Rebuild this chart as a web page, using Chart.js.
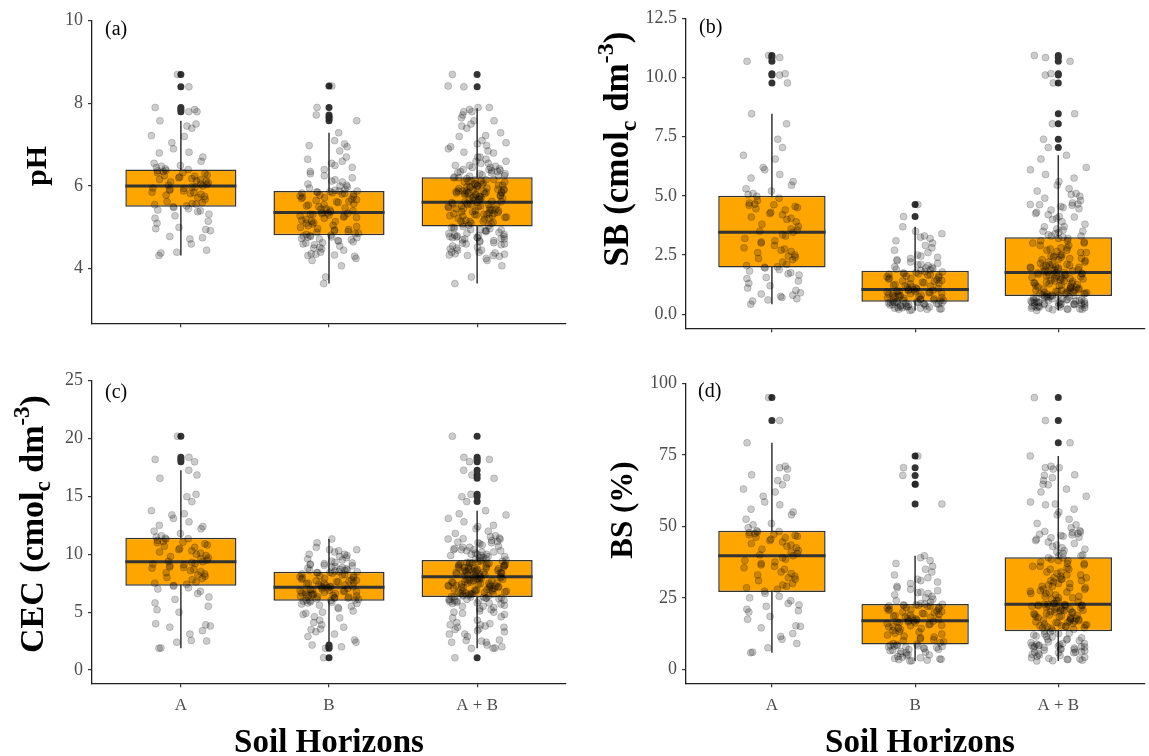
<!DOCTYPE html>
<html>
<head>
<meta charset="utf-8">
<script src="https://cdn.jsdelivr.net/npm/chart.js@4.4.1/dist/chart.umd.min.js"></script>
<style>
  body { margin: 0; background: #fff; }
  #wrap { position: relative; width: 1149px; height: 756px; overflow: hidden; }
  #wrap canvas { position: absolute; left: 0; top: 0; }
</style>
</head>
<body>
<div id="wrap">
  <canvas id="pa" width="1149" height="756"></canvas>
  <canvas id="pb" width="1149" height="756"></canvas>
  <canvas id="pc" width="1149" height="756"></canvas>
  <canvas id="pd" width="1149" height="756"></canvas>
</div>
<script>
const horizons = ['A', 'B', 'A + B'];

// pH
const phA = [4.32, 4.38, 4.40, 4.45, 4.60, 4.72, 4.75, 4.78, 4.92, 4.95, 4.97, 5.00, 5.10, 5.15, 5.22, 5.28, 5.32, 5.38, 5.40, 5.42, 5.45, 5.48,
  5.50, 5.52, 5.55, 5.56, 5.58, 5.60, 5.62, 5.68, 5.72, 5.75, 5.78, 5.80, 5.82, 5.84, 5.85, 5.88, 5.90, 5.92, 5.94, 5.95, 5.97, 5.98, 6.00,
  6.02, 6.04, 6.05, 6.08, 6.10, 6.12, 6.13, 6.15, 6.16, 6.18, 6.20, 6.22, 6.24, 6.25, 6.27, 6.30, 6.32, 6.33, 6.35, 6.37, 6.38, 6.40, 6.42,
  6.45, 6.48, 6.50, 6.55, 6.60, 6.70, 6.80, 6.82, 6.90, 7.05, 7.20, 7.22, 7.40, 7.45, 7.50, 7.58, 7.80, 7.80, 7.85, 7.90, 8.40, 8.70];
const phB = [3.64, 3.80, 4.07, 4.20, 4.25, 4.30, 4.32, 4.33, 4.35, 4.36, 4.40, 4.45, 4.48, 4.50, 4.52, 4.55, 4.58, 4.60, 4.62, 4.63, 4.65, 4.67, 4.68, 4.70, 4.72, 4.73, 4.75, 4.76, 4.77, 4.78, 4.79, 4.80,
  4.81, 4.83, 4.85, 4.86, 4.88, 4.90, 4.92, 4.94, 4.95, 4.97, 5.00, 5.02, 5.04, 5.05, 5.08, 5.10, 5.12, 5.14, 5.15, 5.17, 5.20, 5.22, 5.24, 5.25, 5.27, 5.28, 5.30, 5.31, 5.32, 5.33, 5.34, 5.35, 5.36,
  5.38, 5.40, 5.42, 5.44, 5.45, 5.47, 5.50, 5.52, 5.54, 5.55, 5.57, 5.60, 5.62, 5.63, 5.65, 5.67, 5.68, 5.70, 5.72, 5.73, 5.75, 5.76, 5.78, 5.80, 5.81, 5.82, 5.83, 5.84, 5.85, 5.86, 5.87, 5.88, 5.88,
  5.90, 5.92, 5.95, 5.98, 6.00, 6.02, 6.05, 6.10, 6.12, 6.15, 6.20, 6.25, 6.30, 6.35, 6.40, 6.45, 6.50, 6.55, 6.60, 6.65, 6.70, 6.85, 6.95, 6.98, 7.02, 7.10, 7.29, 7.58, 7.65, 7.72, 7.90, 8.42];
// lower whisker, Q1, median, Q3, upper whisker for A, B, A + B
const phStats = [[4.32, 5.50, 6.00, 6.40, 7.58], [3.64, 4.81, 5.36, 5.88, 7.29], [3.64, 5.02, 5.61, 6.21, 7.88]];
const phOutliers = [[7.80, 7.85, 7.90, 8.40, 8.70], [7.58, 7.65, 7.72, 7.90, 8.42], [8.40, 8.70]];
const phTicks = [4, 6, 8, 10];
const phRange = [2.68, 10];

// SB (cmolc dm-3)
const sbA = [0.42, 0.55, 0.60, 0.65, 0.70, 0.75, 0.80, 0.85, 0.90, 1.00, 1.10, 1.20, 1.30, 1.40, 1.50, 1.55, 1.65, 1.70, 1.75, 1.82, 1.88, 1.95,
  1.98, 2.00, 2.05, 2.10, 2.20, 2.30, 2.35, 2.40, 2.45, 2.50, 2.60, 2.65, 2.70, 2.75, 2.80, 2.90, 3.00, 3.05, 3.10, 3.20, 3.30, 3.35, 3.46,
  3.50, 3.55, 3.60, 3.70, 3.80, 3.90, 4.00, 4.05, 4.10, 4.20, 4.25, 4.30, 4.40, 4.45, 4.50, 4.55, 4.60, 4.62, 4.65, 4.70, 4.80, 4.90, 4.98,
  5.05, 5.10, 5.20, 5.30, 5.45, 5.60, 5.75, 5.90, 6.10, 6.20, 6.55, 6.71, 7.04, 7.39, 8.04, 8.47, 9.77, 10.10, 10.16, 10.68, 10.84, 10.93];
const sbB = [0.15, 0.18, 0.20, 0.20, 0.22, 0.22, 0.25, 0.25, 0.27, 0.28, 0.30, 0.30, 0.32, 0.33, 0.35, 0.35, 0.37, 0.38, 0.40, 0.40, 0.42, 0.43, 0.44, 0.45, 0.46, 0.47, 0.48, 0.48, 0.49, 0.50, 0.50, 0.51,
  0.52, 0.54, 0.55, 0.57, 0.58, 0.60, 0.62, 0.63, 0.65, 0.67, 0.68, 0.70, 0.72, 0.74, 0.75, 0.77, 0.78, 0.80, 0.82, 0.84, 0.85, 0.87, 0.88, 0.90, 0.92, 0.94, 0.95, 0.97, 0.98, 1.00, 1.01, 1.02, 1.04,
  1.06, 1.08, 1.10, 1.12, 1.15, 1.18, 1.20, 1.22, 1.25, 1.28, 1.30, 1.32, 1.35, 1.38, 1.40, 1.42, 1.45, 1.48, 1.50, 1.52, 1.55, 1.58, 1.60, 1.62, 1.64, 1.66, 1.68, 1.70, 1.72, 1.74, 1.76, 1.78, 1.80,
  1.85, 1.87, 1.90, 1.92, 1.95, 1.98, 2.00, 2.05, 2.08, 2.10, 2.15, 2.20, 2.25, 2.30, 2.35, 2.40, 2.45, 2.50, 2.60, 2.70, 2.80, 2.90, 3.00, 3.10, 3.20, 3.25, 3.30, 3.40, 3.50, 3.69, 4.12, 4.63];
const sbStats = [[0.42, 1.97, 3.46, 5.00, 8.47], [0.15, 0.52, 1.04, 1.83, 3.69], [0.15, 0.76, 1.76, 3.25, 6.71]];
const sbOutliers = [[9.77, 10.10, 10.16, 10.68, 10.84, 10.93], [4.12, 4.63],
  [7.04, 7.39, 8.04, 8.47, 9.77, 10.10, 10.16, 10.68, 10.84, 10.93]];
const sbTicks = [0, 2.5, 5, 7.5, 10, 12.5];
const sbRange = [-0.6, 12.5];

// CEC (cmolc dm-3)
const cecA = [1.87, 1.90, 2.40, 2.50, 2.55, 3.10, 3.40, 3.70, 3.80, 3.90, 4.00, 5.00, 5.20, 5.50, 5.80, 6.10, 6.30, 6.60, 6.80, 7.00, 7.10, 7.25,
  7.30, 7.40, 7.50, 7.60, 7.80, 7.90, 8.00, 8.10, 8.20, 8.30, 8.40, 8.50, 8.60, 8.70, 8.80, 8.85, 8.90, 9.00, 9.10, 9.15, 9.20, 9.30, 9.36,
  9.40, 9.50, 9.60, 9.70, 9.80, 9.90, 10.00, 10.10, 10.20, 10.30, 10.40, 10.50, 10.60, 10.70, 10.80, 10.90, 11.00, 11.05, 11.10, 11.20, 11.30, 11.35, 11.40,
  11.50, 11.60, 11.80, 12.00, 12.20, 12.40, 12.50, 12.80, 13.10, 13.40, 13.50, 13.77, 14.55, 14.98, 15.18, 16.56, 16.85, 17.26, 18.00, 18.20, 18.38, 20.20];
const cecB = [1.06, 1.87, 2.00, 2.15, 2.40, 2.60, 2.90, 3.10, 3.30, 3.50, 3.55, 3.70, 3.90, 4.10, 4.30, 4.50, 4.60, 4.80, 4.90, 5.00, 5.10, 5.30, 5.40, 5.50, 5.60, 5.70, 5.75, 5.80, 5.85, 5.90, 5.95, 5.98,
  6.00, 6.03, 6.05, 6.10, 6.15, 6.20, 6.22, 6.25, 6.30, 6.33, 6.35, 6.40, 6.42, 6.45, 6.50, 6.52, 6.55, 6.60, 6.62, 6.65, 6.70, 6.72, 6.75, 6.80, 6.82, 6.85, 6.90, 6.92, 6.95, 7.00, 7.05, 7.10, 7.15,
  7.18, 7.20, 7.22, 7.25, 7.30, 7.35, 7.40, 7.45, 7.50, 7.52, 7.55, 7.60, 7.65, 7.70, 7.72, 7.75, 7.80, 7.85, 7.90, 7.95, 8.00, 8.05, 8.10, 8.15, 8.20, 8.25, 8.30, 8.35, 8.40, 8.42, 8.45, 8.48, 8.50,
  8.55, 8.60, 8.62, 8.65, 8.70, 8.75, 8.80, 8.85, 8.90, 8.95, 9.00, 9.05, 9.10, 9.15, 9.20, 9.25, 9.30, 9.40, 9.50, 9.60, 9.70, 9.80, 9.90, 10.00, 10.00, 10.20, 10.30, 10.40, 10.40, 10.60, 11.00, 11.32];
const cecStats = [[1.87, 7.29, 9.36, 11.43, 17.26], [2.40, 5.99, 7.15, 8.50, 11.32], [1.87, 6.31, 8.06, 9.50, 13.77]];
const cecOutliers = [[18.00, 18.20, 18.38, 20.20], [1.06, 1.87, 2.00, 2.15],
  [1.06, 14.55, 14.98, 15.18, 16.56, 16.85, 17.26, 18.00, 18.20, 18.38, 20.20]];
const cecTicks = [0, 5, 10, 15, 20, 25];
const cecRange = [-1.15, 25];

// BS (%)
const bsA = [5.8, 6.0, 7.5, 9.0, 10.5, 11.5, 12.5, 14.5, 15.0, 15.2, 17.5, 18.5, 20.0, 20.5, 21.0, 22.0, 22.5, 23.0, 24.0, 25.0, 25.5, 26.5,
  27.3, 28.0, 28.5, 29.0, 29.5, 30.0, 31.0, 31.5, 32.0, 32.5, 33.0, 33.5, 34.0, 35.0, 35.5, 36.0, 36.5, 37.0, 37.5, 38.0, 38.5, 39.0, 39.7,
  40.0, 40.5, 41.0, 41.5, 42.0, 42.5, 43.0, 43.5, 44.0, 44.5, 45.0, 45.5, 46.0, 46.2, 46.5, 46.8, 47.0, 47.2, 47.5, 47.8, 48.0, 48.2, 48.4,
  49.5, 50.5, 51.0, 52.5, 54.0, 55.0, 56.0, 57.5, 58.5, 60.5, 62.0, 63.0, 64.5, 66.0, 67.0, 68.0, 70.0, 70.5, 71.0, 79.2, 87.0, 95.0];
const bsB = [2.9, 3.0, 3.2, 3.4, 3.5, 3.6, 3.8, 4.0, 4.2, 4.5, 4.8, 5.0, 5.2, 5.5, 5.8, 6.0, 6.2, 6.5, 6.7, 6.9, 7.0, 7.2, 7.4, 7.6, 7.8, 7.9, 8.0, 8.1, 8.2, 8.3, 8.4, 8.6,
  8.8, 9.0, 9.3, 9.6, 10.0, 10.3, 10.6, 11.0, 11.3, 11.6, 12.0, 12.3, 12.6, 13.0, 13.3, 13.6, 14.0, 14.3, 14.5, 14.8, 15.0, 15.2, 15.4, 15.6, 15.8, 16.0, 16.2, 16.4, 16.5, 16.6, 16.8, 16.9, 17.0,
  17.2, 17.4, 17.6, 17.8, 18.0, 18.2, 18.4, 18.6, 18.8, 19.0, 19.2, 19.4, 19.6, 19.8, 20.0, 20.2, 20.4, 20.6, 20.8, 21.0, 21.2, 21.4, 21.6, 21.8, 22.0, 22.1, 22.2, 22.3, 22.4, 22.5, 22.6, 22.7, 22.8,
  23.0, 23.5, 24.0, 24.5, 25.0, 25.5, 26.0, 26.5, 26.8, 27.0, 27.5, 28.0, 28.5, 29.0, 30.0, 30.5, 31.0, 31.5, 32.0, 33.0, 34.0, 35.0, 36.0, 37.0, 38.0, 39.0, 39.7, 57.8, 64.7, 67.8, 70.5, 74.6];
const bsStats = [[5.8, 27.0, 39.7, 48.4, 79.2], [2.9, 8.7, 17.0, 22.8, 39.7], [2.9, 13.3, 22.7, 39.2, 74.6]];
const bsOutliers = [[87.0, 95.0], [57.8, 64.7, 67.8, 70.5, 74.6], [79.2, 87.0, 95.0]];
const bsTicks = [0, 25, 50, 75, 100];
const bsRange = [-4.9, 100];

// look
const FONT = '"Liberation Serif", "Times New Roman", serif';
const INK = '#333333';
const ORANGE = '#FFA500';
const TICK_GREY = '#4d4d4d';
const JITTER = 0.2;      // half width of the jitter band, in category units
const BOX_WIDTH = 0.75;  // box width, in category units
const Y_AXIS_W = 60;
const X_AXIS_H = 40;

Chart.defaults.font.family = FONT;

const panels = [
  { id: 'pa', tag: '(a)', a: phA, b: phB, stats: phStats, outliers: phOutliers, ticks: phTicks, range: phRange, decimals: 0,
    title: [['pH', 'n']], titleSize: 30, plot: { l: 92, r: 566, t: 20.7, b: 323.3 }, titlePos: [46, 166], tagPos: [105, 30] },
  { id: 'pb', tag: '(b)', a: sbA, b: sbB, stats: sbStats, outliers: sbOutliers, ticks: sbTicks, range: sbRange, decimals: 1,
    title: [['SB (cmol', 'n'], ['c', 'sub'], [' dm', 'n'], ['-3', 'sup'], [')', 'n']], titleSize: 35,
    plot: { l: 686, r: 1148, t: 18.3, b: 328.3 }, titlePos: [628, 149], tagPos: [699, 27.5] },
  { id: 'pc', tag: '(c)', a: cecA, b: cecB, stats: cecStats, outliers: cecOutliers, ticks: cecTicks, range: cecRange, decimals: 0,
    title: [['CEC (cmol', 'n'], ['c', 'sub'], [' dm', 'n'], ['-3', 'sup'], [')', 'n']], titleSize: 34,
    plot: { l: 92, r: 566, t: 380.7, b: 683.3 }, titlePos: [43, 524], tagPos: [105, 393], xTitle: [329, 751.5] },
  { id: 'pd', tag: '(d)', a: bsA, b: bsB, stats: bsStats, outliers: bsOutliers, ticks: bsTicks, range: bsRange, decimals: 0,
    title: [['BS (%)', 'n']], titleSize: 31, plot: { l: 686, r: 1148, t: 383.3, b: 683.3 }, titlePos: [632, 510], tagPos: [698, 391.5], xTitle: [920, 751.5] }
];

// spread points sideways with a quadratic Weyl sequence (no visible diagonal runs on sorted values)
function jitterX(group, k) {
  const phase = [0.13, 0.41, 0.77][group];
  const u = (k * k * 0.6180339887 + k * 0.4142135624 + phase) % 1;
  return group + 1 + (u * 2 - 1) * JITTER;
}

// text with sub/superscript pieces, centred on the current origin
function drawRich(ctx, parts, size) {
  const fonts = parts.map(([, k]) => `bold ${k === 'n' ? size : Math.round(size * 0.68)}px ${FONT}`);
  let total = 0;
  parts.forEach(([t], i) => { ctx.font = fonts[i]; total += ctx.measureText(t).width; });
  let x = -total / 2;
  parts.forEach(([t, k], i) => {
    ctx.font = fonts[i];
    const dy = k === 'sub' ? size * 0.22 : k === 'sup' ? -size * 0.42 : 0;
    ctx.fillText(t, x, dy);
    x += ctx.measureText(t).width;
  });
}

function labelsPlugin(p) {
  return {
    id: 'panelLabels',
    afterDraw(chart) {
      const ctx = chart.ctx;
      ctx.save();
      ctx.fillStyle = '#000';
      ctx.textBaseline = 'alphabetic';
      ctx.textAlign = 'left';
      // y axis title, rotated
      ctx.save();
      ctx.translate(p.titlePos[0], p.titlePos[1]);
      ctx.rotate(-Math.PI / 2);
      drawRich(ctx, p.title, p.titleSize);
      ctx.restore();
      // panel tag
      ctx.font = `20px ${FONT}`;
      ctx.textBaseline = 'middle';
      ctx.fillText(p.tag, p.tagPos[0], p.tagPos[1]);
      // x axis title under the bottom row
      if (p.xTitle) {
        ctx.font = `bold 33px ${FONT}`;
        ctx.textAlign = 'center';
        ctx.textBaseline = 'alphabetic';
        ctx.fillText('Soil Horizons', p.xTitle[0], p.xTitle[1]);
      }
      ctx.restore();
    }
  };
}

function buildChart(p) {
  const groups = [p.a, p.b, p.a.concat(p.b)];
  const jitter = groups.flatMap((vals, g) => vals.map((v, k) => ({ x: jitterX(g, k), y: v })));
  const outliers = p.outliers.flatMap((vals, g) => vals.map(v => ({ x: g + 1, y: v })));
  const boxes = p.stats.map((s, g) => ({ x: g + 1, y: [s[1], s[3]] }));
  const whiskers = p.stats.flatMap((s, g) => [{ x: g + 1, y: s[0] }, { x: g + 1, y: s[4] }, { x: g + 1, y: null }]);
  const half = BOX_WIDTH / 2;
  const medians = p.stats.flatMap((s, g) => [{ x: g + 1 - half, y: s[2] }, { x: g + 1 + half, y: s[2] }, { x: g + 1 + half, y: null }]);
  const showX = !!p.xTitle;

  new Chart(document.getElementById(p.id), {
    type: 'scatter',
    data: {
      datasets: [
        { type: 'line', data: whiskers, borderColor: INK, borderWidth: 1.5, pointRadius: 0, spanGaps: false, order: 5 },
        { type: 'bar', data: boxes, backgroundColor: ORANGE, borderColor: INK, borderWidth: 1.5, borderSkipped: false,
          barPercentage: BOX_WIDTH, categoryPercentage: 1, order: 4 },
        { type: 'line', data: medians, borderColor: INK, borderWidth: 3, pointRadius: 0, spanGaps: false, order: 3 },
        { data: outliers, backgroundColor: INK, borderColor: INK, borderWidth: 0, pointRadius: 3.5, order: 2 },
        { data: jitter, backgroundColor: 'rgba(0,0,0,0.2)', borderColor: 'rgba(0,0,0,0.22)', borderWidth: 0.8, pointRadius: 3.5, order: 1 }
      ]
    },
    options: {
      responsive: false,
      animation: false,
      events: [],
      layout: {
        padding: {
          left: p.plot.l - Y_AXIS_W,
          right: 1149 - p.plot.r,
          top: p.plot.t,
          bottom: 756 - p.plot.b - X_AXIS_H
        }
      },
      plugins: { legend: { display: false }, tooltip: { enabled: false } },
      scales: {
        x: {
          type: 'linear',
          min: 0.4,
          max: horizons.length + 0.6,
          offset: false,
          afterBuildTicks: s => { s.ticks = horizons.map((_, i) => ({ value: i + 1 })); },
          afterFit: s => { s.height = X_AXIS_H; },
          ticks: {
            autoSkip: false,
            maxRotation: 0,
            padding: 8,
            color: TICK_GREY,
            font: { size: 17 },
            callback: v => showX ? horizons[v - 1] : ''
          },
          grid: { offset: false, drawOnChartArea: false, drawTicks: true, tickLength: 4, color: INK, lineWidth: 1.2 },
          border: { display: true, color: '#222', width: 1.3 }
        },
        y: {
          type: 'linear',
          min: p.range[0],
          max: p.range[1],
          afterBuildTicks: s => { s.ticks = p.ticks.map(v => ({ value: v })); },
          afterFit: s => { s.width = Y_AXIS_W; },
          ticks: {
            padding: 5,
            color: TICK_GREY,
            font: { size: 18 },
            callback: v => v.toFixed(p.decimals)
          },
          grid: { drawOnChartArea: false, drawTicks: true, tickLength: 4, color: INK, lineWidth: 1.2 },
          border: { display: true, color: '#222', width: 1.3 }
        }
      }
    },
    plugins: [labelsPlugin(p)]
  });
}

panels.forEach(buildChart);
</script>
</body>
</html>
